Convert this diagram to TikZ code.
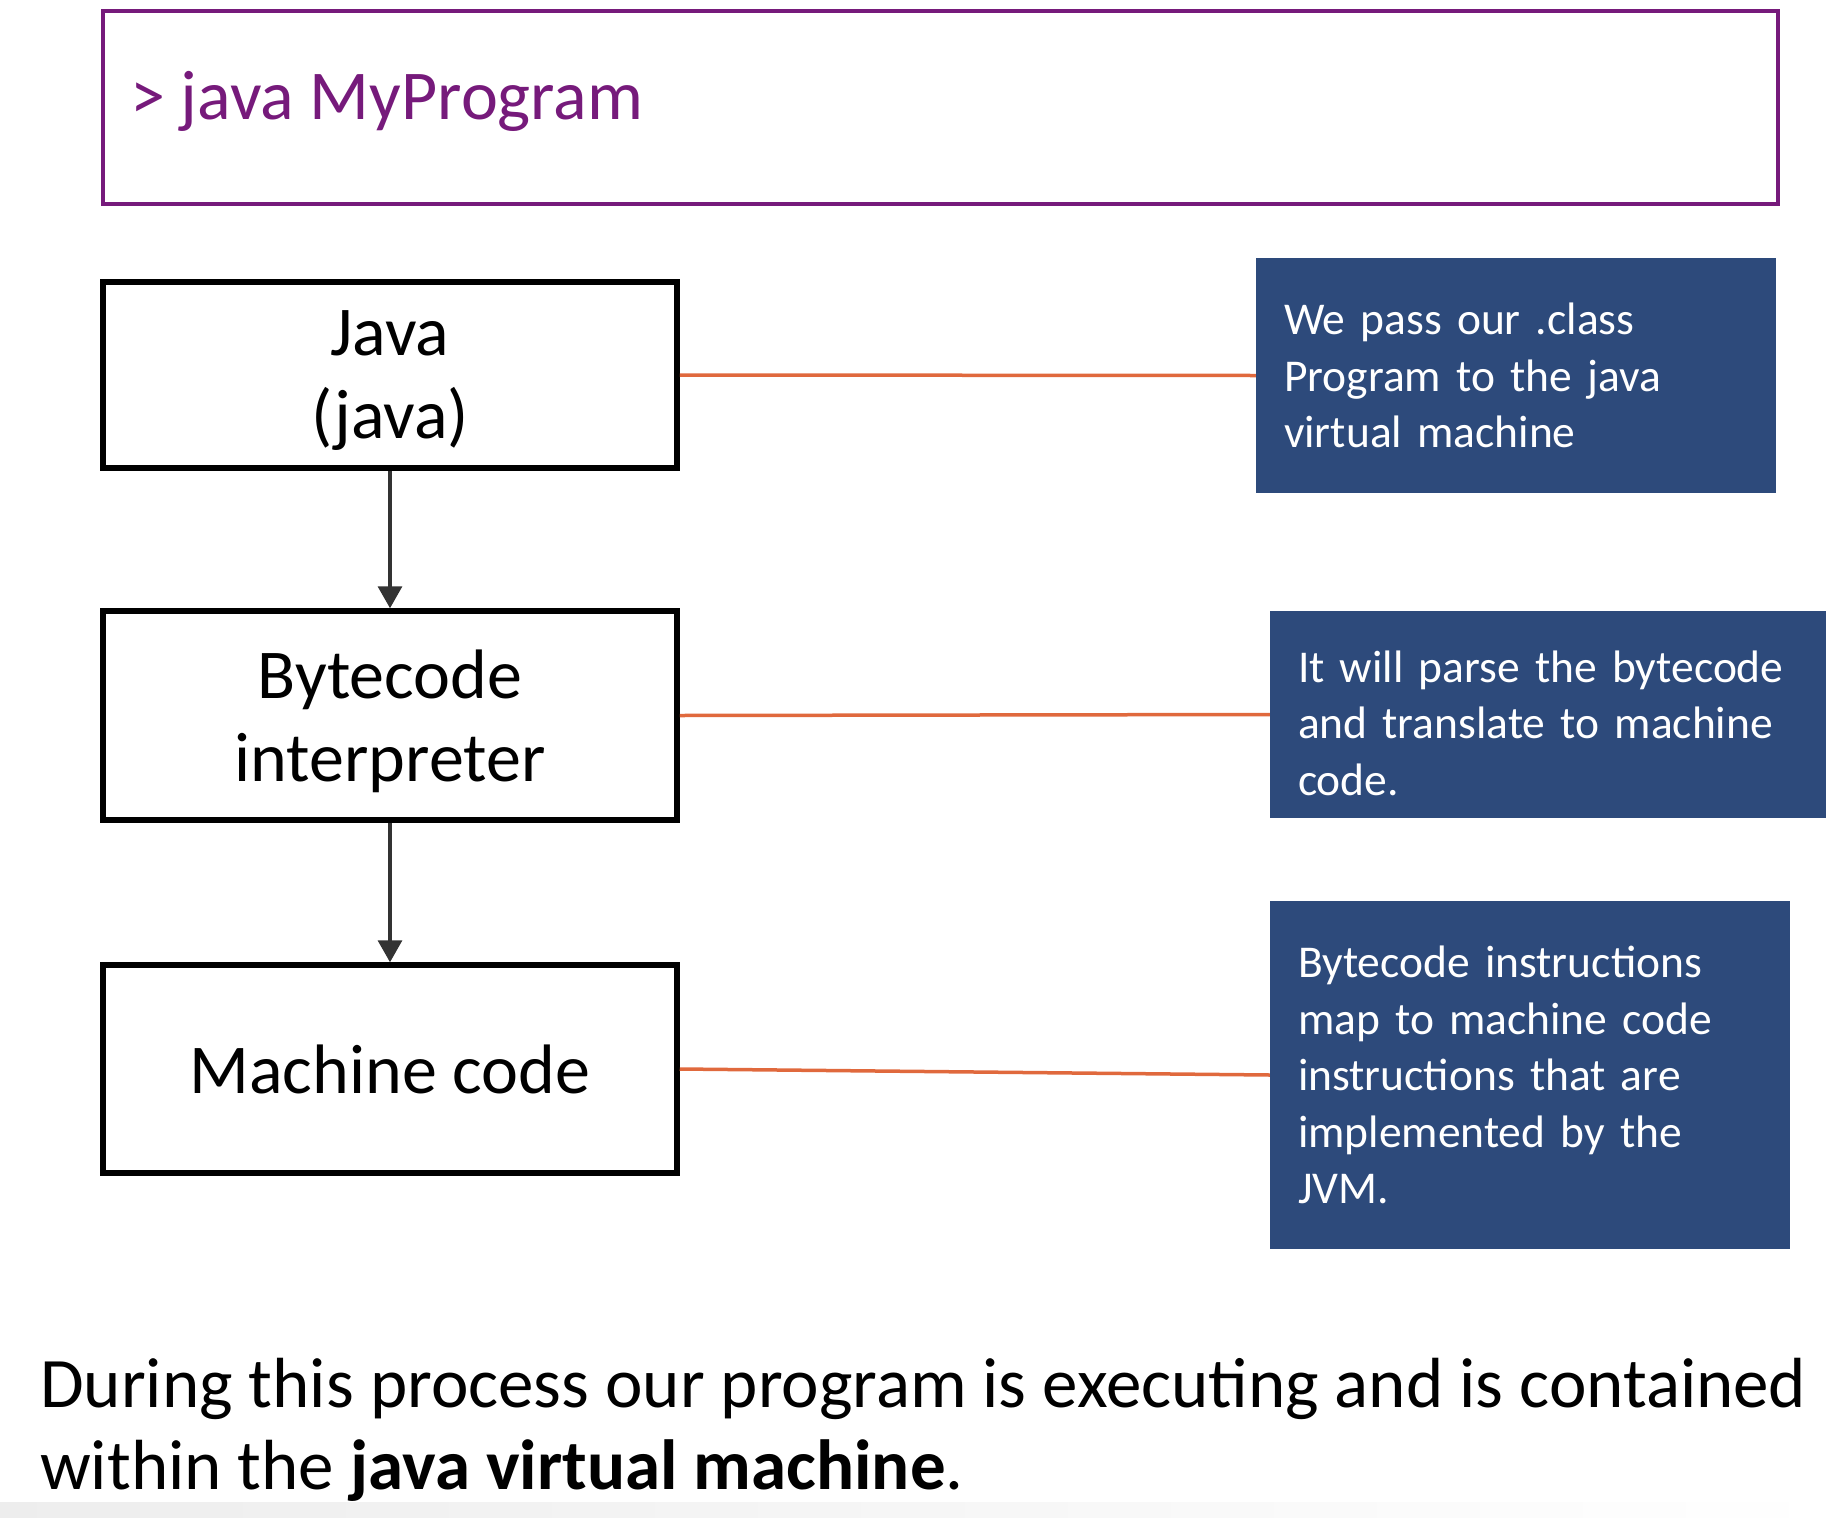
\documentclass[tikz,border=0pt]{standalone}
\usepackage{fontspec}
\setmainfont{Carlito}
\usetikzlibrary{arrows.meta}
\definecolor{jpurple}{HTML}{761A7B}
\definecolor{jblue}{HTML}{2D4A7B}
\definecolor{jorange}{HTML}{E0693D}
\definecolor{jgray}{HTML}{333333}
\tikzset{
  stagebox/.style={draw=black, line width=5.5pt, minimum width=574pt, inner sep=0pt, align=center, text depth=0pt, font=\fontsize{70}{83}\selectfont},
  notebox/.style={fill=jblue, text=white, inner xsep=28pt, inner ysep=0pt, align=left, font=\fontsize{45.5}{56.5}\selectfont, execute at begin node={\hyphenpenalty=10000\exhyphenpenalty=10000}},
  flowarrow/.style={draw=jgray, line width=3.5pt, -{Triangle[width=24pt,length=22pt]}},
  linkline/.style={draw=jorange, line width=3.5pt},
}
\begin{document}
\begin{tikzpicture}[x=1pt,y=-1pt]
\useasboundingbox (0,0) rectangle (1840,1518);
\fill[left color=black!7, right color=white] (0,1502) rectangle (1840,1518);
% command box
\node[draw=jpurple, line width=4pt, minimum width=1675pt, minimum height=193pt, inner sep=0pt] (cmd) at (940.5,107) {};
\node[anchor=west, text=jpurple, inner sep=0pt, font=\fontsize{70}{84}\selectfont] (cmdtext) at (130,101) {> java MyProgram};
% stage boxes
\node[stagebox, minimum height=186pt] (java) at (390,375) {Java\\(java)};
\node[stagebox, minimum height=209pt] (interp) at (390,715.5) {Bytecode\\interpreter};
\node[stagebox, minimum height=208pt] (mcode) at (390,1069) {Machine code};
% note boxes
\node[notebox, text width=464pt, minimum height=235pt] (n1) at (1516,375.5) {We pass our .class\\Program to the java\\virtual machine};
\node[notebox, text width=500pt, minimum height=207pt, text depth=96pt] (n2) at (1548,714.5) {It will parse the bytecode\\and translate to machine\\code.};
\node[notebox, text width=464pt, minimum height=348pt] (n3) at (1530,1075) {Bytecode instructions\\map to machine code\\instructions that are\\implemented by the\\JVM.};
% connectors
\draw[flowarrow] (java.south) -- (interp.north);
\draw[flowarrow] (interp.south) -- (mcode.north);
\draw[linkline] (java.east) -- (n1.west);
\draw[linkline] (interp.east) -- (n2.west);
\draw[linkline] (mcode.east) -- (n3.west);
% bottom text
\node[anchor=west, align=left, inner sep=0pt, font=\fontsize{71}{82}\selectfont] (summary) at (40,1430) {During this process our program is executing and is contained\\within the \textbf{java virtual machine}.};
\end{tikzpicture}
\end{document}
